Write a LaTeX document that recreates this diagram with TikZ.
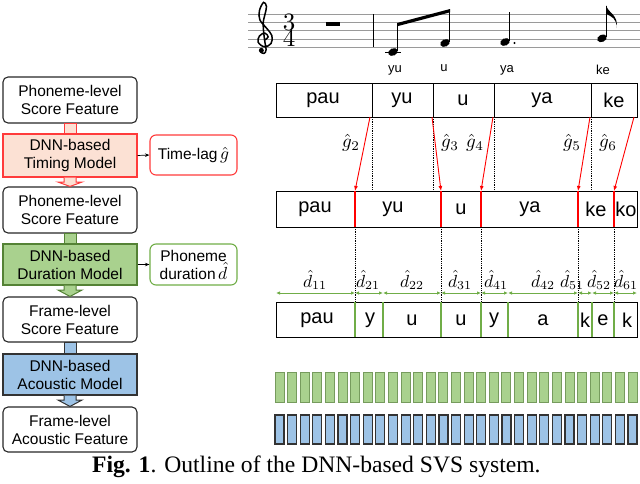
\documentclass[tikz,border=0pt]{standalone}
\usepackage[no-math]{fontspec}
\setmainfont{Liberation Sans}
\newfontfamily\capfont{Liberation Serif}
\usetikzlibrary{arrows.meta,calc}
\newcommand\mymth[2]{\scalebox{#1}{\normalsize$#2$}}
\definecolor{redline}{HTML}{FF3B3B}
\definecolor{redfill}{HTML}{FCE1D4}
\definecolor{grnfill}{HTML}{A9D18E}
\definecolor{grnline}{HTML}{548235}
\definecolor{grnlite}{HTML}{70AD47}
\definecolor{blufill}{HTML}{9DC3E6}
\definecolor{bluline}{HTML}{333333}
\definecolor{staffgray}{HTML}{9A9A9A}
\begin{document}
\begin{tikzpicture}[x=1pt,y=-1pt,
  feat/.style={draw=black!85, rounded corners=5, line width=1.1, minimum width=134, minimum height=46, align=center, font=\fontsize{15.5}{18}\selectfont, inner sep=0},
  model/.style={line width=1.1, minimum width=134, align=center, font=\fontsize{15.5}{18}\selectfont, inner sep=0},
  side/.style={rounded corners=6, line width=1.1, minimum width=87, align=center, font=\fontsize{15.5}{18}\selectfont, inner sep=0},
  sarrow/.style={-{Stealth[length=4.5,width=3.5]}, line width=0.7},
  rowtxt/.style={font=\fontsize{20}{20}\selectfont, inner sep=0},
  lyr/.style={font=\fontsize{13}{13}\selectfont, inner sep=0},
  mlab/.style={inner sep=0},
  dots/.style={densely dotted, line width=0.8},
  redarr/.style={red, line width=0.9, -{Latex[length=5,width=4]}},
  dimarr/.style={grnlite, line width=0.9, {Latex[length=4,width=3.5]}-{Latex[length=4,width=3.5]}},
  gframe/.style={fill=grnfill, draw=grnline!80, line width=1},
  bframe/.style={fill=blufill, draw=bluline, line width=1.2}
]
\useasboundingbox (0,0) rectangle (640,483);

% ---------------- left pipeline ----------------
\node[feat] (b1) at (70,100) {Phoneme-level\\Score Feature};
\node[model, draw=redline, fill=redfill, minimum height=43] (b2) at (70,155.5) {DNN-based\\Timing Model};
\node[feat] (b3) at (70,210) {Phoneme-level\\Score Feature};
\node[model, draw=grnline, fill=grnfill, minimum height=41] (b4) at (70,264.5) {DNN-based\\Duration Model};
\node[feat, minimum height=45] (b5) at (70,319.5) {Frame-level\\Score Feature};
\node[model, draw=bluline, fill=blufill, minimum height=41] (b6) at (70,374.5) {DNN-based\\Acoustic Model};
\node[feat, minimum height=45] (b7) at (70,429.5) {Frame-level\\Acoustic Feature};

\node[side, draw=redline, minimum height=40] (tl) at (193.5,155) {Time-lag\,\mymth{1.75}{\hat{g}}};
\node[side, draw=grnlite, minimum height=41] (pd) at (193.5,264.5) {Phoneme\\duration\,\mymth{1.75}{\hat{d}}};
\draw[sarrow] (b2.east) -- (tl.west);
\draw[sarrow] (b4.east) -- (pd.west);

% connectors
\draw[draw=redline, fill=redfill, line width=1] ($(b1.south)+(-6,0)$) rectangle ($(b2.north)+(6,0)$);
\draw[draw=grnline, fill=grnfill, line width=1] ($(b3.south)+(-6,0)$) rectangle ($(b4.north)+(6,0)$);
\draw[draw=bluline, fill=blufill, line width=1] ($(b5.south)+(-6,0)$) rectangle ($(b6.north)+(6,0)$);
\draw[draw=redline, fill=redfill, line width=1]
  ($(b2.south)+(-6,0)$) -- ($(b2.south)+(-6,4.5)$) -- ($(b2.south)+(-12,4.5)$) -- (b3.north)
  -- ($(b2.south)+(12,4.5)$) -- ($(b2.south)+(6,4.5)$) -- ($(b2.south)+(6,0)$);
\draw[draw=grnline, fill=grnfill, line width=1]
  ($(b4.south)+(-6,0)$) -- ($(b4.south)+(-6,4.5)$) -- ($(b4.south)+(-12,4.5)$) -- (b5.north)
  -- ($(b4.south)+(12,4.5)$) -- ($(b4.south)+(6,4.5)$) -- ($(b4.south)+(6,0)$);
\draw[draw=bluline, fill=blufill, line width=1]
  ($(b6.south)+(-6,0)$) -- ($(b6.south)+(-6,4.5)$) -- ($(b6.south)+(-12,4.5)$) -- (b7.north)
  -- ($(b6.south)+(12,4.5)$) -- ($(b6.south)+(6,4.5)$) -- ($(b6.south)+(6,0)$);

% ---------------- score ----------------
\foreach \yy in {14,22.3,30.6,38.9,47.2} \draw[staffgray, line width=0.8] (248,\yy) -- (640,\yy);
\begin{scope}[shift={(264,38.9)}, x=8.3pt, y=8.3pt]
  \draw[line width=1.5, line cap=round] plot[smooth, tension=0.6] coordinates {
    (0.15,-0.1) (0.5,0.25) (0.1,0.7) (-0.55,0.35) (-0.7,-0.4) (0.05,-0.95) (0.85,-0.55)
    (0.95,0.4) (0.3,1.3) (-0.5,2.3) (-0.55,3.4) (-0.05,4.4) (0.3,3.9) (0.1,2.9)
    (-0.1,1.8) (0.05,0) (0.25,-1.3) (0.0,-1.75) (-0.4,-1.6)};
  \fill (-0.32,-1.38) circle (0.3);
\end{scope}
\node[inner sep=0] (ts3) at (289,22.3) {\mymth{2.5}{3}};
\node[inner sep=0] (ts4) at (289,38.9) {\mymth{2.5}{4}};
\fill (326,22.3) rectangle (340,26);
\draw[line width=1] (373,14) -- (373,47.2);
% notes
\draw[line width=0.8] (385,52) -- (401,52);
\fill[rotate around={25:(393,52)}] (393,52) ellipse (5 and 3.6);
\fill[rotate around={25:(445,43)}] (445,43) ellipse (5 and 3.6);
\draw[line width=0.9] (397.6,50.5) -- (397.6,24.5);
\draw[line width=0.9] (449.6,41.5) -- (449.6,10.5);
\fill (397.1,23) -- (450.1,9) -- (450.1,12.3) -- (397.1,26.3) -- cycle;
\fill[rotate around={25:(505,42)}] (505,42) ellipse (5 and 3.6);
\draw[line width=0.9] (509.6,40.5) -- (509.6,11.5);
\fill (514.5,43) circle (1.1);
\fill[rotate around={25:(602,38.3)}] (602,38.3) ellipse (5 and 3.6);
\draw[line width=0.9] (606.6,36.8) -- (606.6,5.5);
\fill (606.2,5.5) .. controls (608,13) and (619,15) .. (616.5,28)
  .. controls (617.5,19) and (611,16) .. (606.2,14) -- cycle;
% lyrics
\node[lyr] (l1) at (395,70) {yu};
\node[lyr] (l2) at (444,68) {u};
\node[lyr] (l3) at (507,70) {ya};
\node[lyr] (l4) at (603,70) {ke};

% ---------------- row 1 ----------------
\draw[line width=1] (276,83) rectangle (637,117);
\foreach \xx/\n in {372/a,433/b,494/c,591/d} {
  \coordinate (r1t\n) at (\xx,83); \coordinate (r1b\n) at (\xx,117);
  \draw[line width=1] (r1t\n) -- (r1b\n);
}
\node[rowtxt] (p1) at (323,100) {pau};
\node[rowtxt] (p2) at (402,100) {yu};
\node[rowtxt] (p3) at (463,100) {u};
\node[rowtxt] (p4) at (542,100) {ya};
\node[rowtxt] (p5) at (614,100) {ke};

% ---------------- row 2 ----------------
\draw[line width=1] (276,191) rectangle (637,227);
\foreach \xx/\n in {355/a,441/b,481/c,578/d,614/e} {
  \coordinate (r2t\n) at (\xx,191); \coordinate (r2b\n) at (\xx,227);
  \draw[red, line width=1.3] (r2t\n) -- (r2b\n);
}
\node[rowtxt] (q1) at (315,209) {pau};
\node[rowtxt] (q2) at (393,209) {yu};
\node[rowtxt] (q3) at (461,209) {u};
\node[rowtxt] (q4) at (530,209) {ya};
\node[rowtxt] (q5) at (596,209) {ke};
\node[rowtxt] (q6) at (626,209) {ko};

% dotted from row 1 to row 2
\foreach \n in {a,b,c,d} \draw[dots] (r1b\n) -- (r1b\n |- r2ta);
% red arrows
\coordinate (s2) at (370,117); \coordinate (s3) at (432,117); \coordinate (s4) at (493,117);
\coordinate (s5) at (590,117); \coordinate (s6) at (634,117);
\draw[redarr] (s2) -- (r2ta);
\draw[redarr] (s3) -- (r2tb);
\draw[redarr] (s4) -- (r2tc);
\draw[redarr] (s5) -- (r2td);
\draw[redarr] (s6) -- (r2te);
\node[mlab] (g2) at (351,143) {\mymth{1.9}{\hat{g}_2}};
\node[mlab] (g3) at (450,143) {\mymth{1.9}{\hat{g}_3}};
\node[mlab] (g4) at (475,143) {\mymth{1.9}{\hat{g}_4}};
\node[mlab] (g5) at (572,143) {\mymth{1.9}{\hat{g}_5}};
\node[mlab] (g6) at (608,143) {\mymth{1.9}{\hat{g}_6}};

% ---------------- row 3 ----------------
\draw[line width=1] (276,302) rectangle (637,337);
\foreach \xx/\n in {355/a,383/b,441/c,481/d,508/e,578/f,592/g,614/h} {
  \coordinate (r3t\n) at (\xx,302); \coordinate (r3b\n) at (\xx,337);
  \draw[grnlite, line width=1.3] (r3t\n) -- (r3b\n);
}
\foreach \n in {a,b,c,d,e} \draw[dots] (r2b\n) -- (r2b\n |- r3ta);
\node[rowtxt] (u1) at (317,320) {pau};
\node[rowtxt] (u2) at (370,320) {y};
\node[rowtxt] (u3) at (412,320) {u};
\node[rowtxt] (u4) at (461,320) {u};
\node[rowtxt] (u5) at (494,320) {y};
\node[rowtxt] (u6) at (543,320) {a};
\node[rowtxt] (u7) at (585,320) {k};
\node[rowtxt] (u8) at (603,320) {e};
\node[rowtxt] (u9) at (627,320) {k};

% dimension arrows
\foreach \xa/\xb/\n in {276/355/1, 355/383/2, 383/441/3, 441/481/4, 481/508/5, 508/578/6, 578/592/7, 592/614/8, 614/637/9} {
  \coordinate (da\n) at (\xa,293); \coordinate (db\n) at (\xb,293);
  \draw[dimarr] (da\n) -- (db\n);
}
\node[mlab] (d11) at (315,280) {\mymth{1.75}{\hat{d}_{11}}};
\node[mlab] (d21) at (368,280) {\mymth{1.75}{\hat{d}_{21}}};
\node[mlab] (d22) at (412,280) {\mymth{1.75}{\hat{d}_{22}}};
\node[mlab] (d31) at (460,280) {\mymth{1.75}{\hat{d}_{31}}};
\node[mlab] (d41) at (496,280) {\mymth{1.75}{\hat{d}_{41}}};
\node[mlab] (d42) at (543,280) {\mymth{1.75}{\hat{d}_{42}}};
\node[mlab] (d51) at (572,280) {\mymth{1.75}{\hat{d}_{51}}};
\node[mlab] (d52) at (599,280) {\mymth{1.75}{\hat{d}_{52}}};
\node[mlab] (d61) at (626,280) {\mymth{1.75}{\hat{d}_{61}}};

% ---------------- frames ----------------
\foreach \i in {0,...,28} {
  \draw[gframe] (275+12.61*\i,372) rectangle ++(9,30);
  \draw[bframe] (275+12.61*\i,415) rectangle ++(9,29);
}

% caption
\node[anchor=base west, inner sep=0, font=\capfont\fontsize{23.6}{24}\selectfont] (cap) at (92,472)
  {\textbf{Fig. 1}. Outline of the DNN-based SVS system.};
\end{tikzpicture}
\end{document}
